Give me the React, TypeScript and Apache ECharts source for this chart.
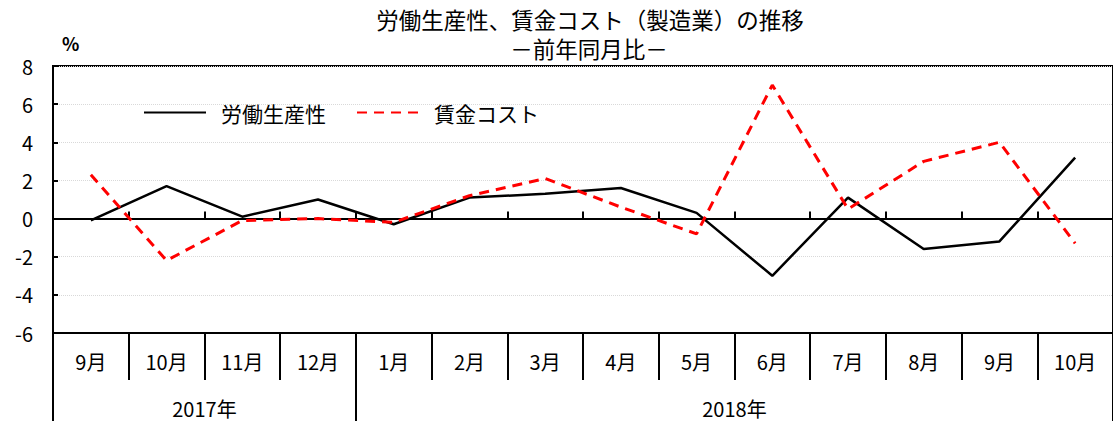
import React, { useEffect, useRef } from "react";
import * as echarts from "echarts";

const months = ["9月", "10月", "11月", "12月", "1月", "2月", "3月", "4月", "5月", "6月", "7月", "8月", "9月", "10月"];
const productivity = [-0.1, 1.7, 0.1, 1.0, -0.3, 1.1, 1.3, 1.6, 0.3, -3.0, 1.1, -1.6, -1.2, 3.2];
const wageCost = [2.3, -2.2, -0.1, 0.0, -0.2, 1.2, 2.1, 0.6, -0.8, 7.0, 0.5, 3.0, 4.0, -1.3];
const years = ["2017年", "2018年"];
const yearBoundaries = [0, 4, 14];
const yearLabelPos = [2, 9];
const yMin = -6;
const yMax = 8;
const yStep = 2;
const titleText = "労働生産性、賃金コスト（製造業）の推移";
const subtitleText = "－前年同月比－";

const FONT = "'Noto Sans CJK JP', sans-serif";

export default function App() {
  const ref = useRef<HTMLDivElement>(null);
  useEffect(() => {
    if (!ref.current) return;
    const chart = echarts.init(ref.current, null, { renderer: "svg" });
    chart.setOption({
      animation: false,
      backgroundColor: "#fff",
      textStyle: { fontFamily: FONT, color: "#000" },
      graphic: [
        {
          type: "text",
          x: 590,
          y: 19,
          style: {
            text: titleText,
            fontSize: 22.5,
            align: "center",
            verticalAlign: "middle",
            fill: "#000",
            fontFamily: FONT,
          },
        },
        {
          type: "text",
          x: 589,
          y: 48,
          style: {
            text: subtitleText,
            fontSize: 22.5,
            align: "center",
            verticalAlign: "middle",
            fill: "#000",
            fontFamily: FONT,
          },
        },
        {
          type: "text",
          left: 62,
          top: 34,
          style: { text: "%", fontSize: 18, fontWeight: "bold", fill: "#000", fontFamily: FONT },
        },
      ],
      legend: {
        left: 138,
        top: 97,
        itemWidth: 62,
        itemHeight: 14,
        itemGap: 30,
        itemStyle: { opacity: 0 },
        textStyle: { fontSize: 21, color: "#000", fontFamily: FONT, padding: [0, 0, 0, 10] },
        data: ["労働生産性", "賃金コスト"],
      },
      grid: {
        left: 53,
        right: -4,
        top: 66,
        bottom: 88,
        show: true,
        borderColor: "#000",
        borderWidth: 2,
        backgroundColor: "transparent",
      },
      xAxis: [
        {
          type: "category",
          data: months,
          position: "bottom",
          boundaryGap: true,
          axisLine: { onZero: false, lineStyle: { color: "#000", width: 2 } },
          axisTick: { show: true, interval: 0, length: 47, lineStyle: { color: "#000", width: 2 } },
          axisLabel: { interval: 0, fontSize: 20, margin: 18, color: "#000", fontFamily: FONT },
          splitLine: { show: false },
        },
        {
          type: "category",
          data: months,
          position: "bottom",
          boundaryGap: true,
          axisLine: { onZero: true, lineStyle: { color: "#000", width: 2 } },
          axisTick: { show: true, inside: true, interval: 0, length: 7, lineStyle: { color: "#000", width: 2 } },
          axisLabel: { show: false },
          splitLine: { show: false },
        },
        {
          type: "value",
          min: 0,
          max: 14,
          position: "bottom",
          axisLine: { show: false, onZero: false },
          axisTick: { show: true, customValues: yearBoundaries, length: 95, lineStyle: { color: "#000", width: 2 } },
          axisLabel: {
            show: true,
            customValues: yearLabelPos,
            margin: 65,
            fontSize: 20,
            color: "#000",
            fontFamily: FONT,
            formatter: (v: number) => years[yearLabelPos.indexOf(v)] ?? "",
          },
          splitLine: { show: false },
        },
      ],
      yAxis: {
        type: "value",
        min: yMin,
        max: yMax,
        interval: yStep,
        axisLine: { show: true, onZero: false, lineStyle: { color: "#000", width: 2 } },
        axisTick: { show: true, inside: true, length: 5, lineStyle: { color: "#000", width: 2 } },
        axisLabel: { fontSize: 20, margin: 20, color: "#000", fontFamily: FONT },
        splitLine: { show: true, lineStyle: { color: "#d9d9d9", type: "dotted", width: 1 } },
      },
      series: [
        {
          name: "労働生産性",
          type: "line",
          data: productivity,
          xAxisIndex: 0,
          symbol: "none",
          lineStyle: { color: "#000", width: 2.5, type: "solid" },
          itemStyle: { color: "#000" },
          z: 3,
        },
        {
          name: "賃金コスト",
          type: "line",
          data: wageCost,
          xAxisIndex: 0,
          symbol: "none",
          lineStyle: { color: "#ff0000", width: 3, type: [10, 7] },
          itemStyle: { color: "#ff0000" },
          z: 4,
        },
      ],
    });
    return () => chart.dispose();
  }, []);
  return <div ref={ref} style={{ width: 1113, height: 421, position: "absolute", left: 0, top: 0 }} />;
}
